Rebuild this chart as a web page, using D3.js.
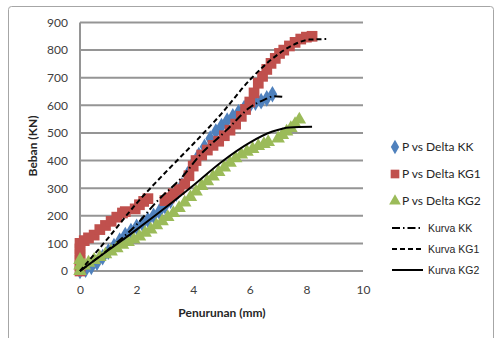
<!DOCTYPE html>
<html>
<head>
<meta charset="utf-8">
<script src="https://cdn.jsdelivr.net/npm/d3@7"></script>
<style>
  html, body { margin: 0; padding: 0; background: #fff; }
  svg { display: block; }
</style>
</head>
<body>
<svg id="chart" width="495" height="338"></svg>
<script>
// ---- data ----
const xTicks = [0, 2, 4, 6, 8, 10];
const yTicks = [0, 100, 200, 300, 400, 500, 600, 700, 800, 900];

const kkDelta = [0,0.2,0.4,0.6,0.8,1.0,1.2,1.4,1.6,1.8,2.0,2.2,2.4,2.6,2.8,3.0,3.2,3.4,3.6,3.8,4.0,4.2,4.4,4.6,4.8,5.0,5.2,5.4,5.6,5.8,6.0,6.2,6.4,6.6,6.8];
const kkLoad  = [0,5,15,30,50,70,90,110,130,145,160,172,185,200,215,235,255,280,310,350,390,420,450,480,505,525,545,560,575,590,600,610,615,625,640];

const kg1Delta = [0,0,0,0,0,0,0.15,0.3,0.5,0.7,0.9,1.1,1.3,1.5,1.6,1.95,2.1,2.25,2.4,3.0,3.15,3.3,3.5,3.7,3.85,4.0,4.1,4.3,4.5,4.7,4.9,5.1,5.3,5.5,5.7,5.85,6.0,6.15,6.3,6.45,6.6,6.75,6.9,7.05,7.2,7.4,7.6,7.8,8.0,8.2];
const kg1Load  = [0,20,40,60,80,100,110,120,130,150,165,180,195,210,215,225,240,252,262,255,265,280,295,315,345,380,400,420,438,455,470,490,510,532,560,585,612,645,680,705,730,752,770,788,800,815,828,840,847,850];

const kg2Delta = [0,0,0,0.15,0.3,0.5,0.7,0.9,1.1,1.3,1.5,1.7,1.9,2.1,2.3,2.5,2.7,2.9,3.1,3.3,3.5,3.7,3.9,4.1,4.3,4.5,4.7,4.9,5.1,5.3,5.5,5.7,5.9,6.1,6.3,6.5,6.65,7.0,7.15,7.3,7.45,7.6,7.75];
const kg2Load  = [0,20,40,20,30,40,50,60,70,82,95,105,115,125,138,150,165,180,195,210,228,248,268,288,308,325,342,358,375,392,408,422,432,442,452,460,467,480,492,505,518,532,548];

const kurvaKKDelta = [0,1,2,2.7,3.65,4.2,5.2,6,6.5,6.85,7.2];
const kurvaKKLoad  = [0,78,168,250,345,415,512,592,620,633,630];

const kurvaKG1Delta = [0,1,2,3,4,5,6,7,7.6,8.1,8.7];
const kurvaKG1Load  = [0,120,245,355,460,570,692,785,822,838,840];

const kurvaKG2Delta = [0,1,2,3,4,5,6,6.8,7.4,8.2];
const kurvaKG2Load  = [0,75,150,228,310,395,465,505,520,522];

const legendLabels = ["P vs Delta KK", "P vs Delta KG1", "P vs Delta KG2", "Kurva KK", "Kurva KG1", "Kurva KG2"];

// ---- layout ----
const svg = d3.select("#chart");
const font = "Lato, 'Open Sans', sans-serif";
const x = d3.scaleLinear().domain([0, 10]).range([80, 363]);
const y = d3.scaleLinear().domain([0, 900]).range([271, 22.5]);

// outer border
svg.append("rect").attr("x", 8.5).attr("y", 6.5).attr("width", 485).attr("height", 340)
  .attr("rx", 3).attr("fill", "none").attr("stroke", "#a6a6a6").attr("stroke-width", 1);

// gridlines
svg.append("g").selectAll("line").data(yTicks).join("line")
  .attr("x1", x(0)).attr("x2", x(10))
  .attr("y1", d => y(d)).attr("y2", d => y(d))
  .attr("stroke", "#959595").attr("stroke-width", 2);

// y axis line
svg.append("line").attr("x1", x(0)).attr("x2", x(0)).attr("y1", y(900)).attr("y2", y(0))
  .attr("stroke", "#959595").attr("stroke-width", 2);

// y axis labels
const yAxis = d3.axisLeft(y).tickValues(yTicks).tickSize(0).tickPadding(12);
const gy = svg.append("g").attr("transform", `translate(${x(0)},0)`).call(yAxis);
gy.select(".domain").remove();
gy.selectAll("text").attr("font-family", font).attr("font-size", 12).attr("fill", "#404040");

// x axis labels
const xAxis = d3.axisBottom(x).tickValues(xTicks).tickSize(0).tickPadding(14);
const gx = svg.append("g").attr("transform", `translate(0,${y(0)})`).call(xAxis);
gx.select(".domain").remove();
gx.selectAll("text").attr("font-family", font).attr("font-size", 12).attr("fill", "#404040");

// axis titles
svg.append("text").attr("x", 222).attr("y", 317).attr("text-anchor", "middle")
  .attr("font-family", font).attr("font-size", 12).attr("font-weight", "bold").attr("fill", "#262626")
  .text("Penurunan (mm)");
svg.append("text").attr("transform", "translate(37,146) rotate(-90)").attr("text-anchor", "middle")
  .attr("font-family", font).attr("font-size", 12).attr("font-weight", "bold").attr("fill", "#262626")
  .text("Beban (KN)");

// series
const blue = "#4F81BD", red = "#C0504D", green = "#9BBB59";
const zip = (a, b) => a.map((v, i) => [v, b[i]]);

const diamond = d3.symbol().type(d3.symbolDiamond).size(80);
const square = d3.symbol().type(d3.symbolSquare).size(115);
const triangle = d3.symbol().type(d3.symbolTriangle).size(80);

svg.append("g").selectAll("path").data(zip(kkDelta, kkLoad)).join("path")
  .attr("d", diamond).attr("transform", d => `translate(${x(d[0])},${y(d[1])})`).attr("fill", blue);
svg.append("g").selectAll("path").data(zip(kg1Delta, kg1Load)).join("path")
  .attr("d", square).attr("transform", d => `translate(${x(d[0])},${y(d[1])})`).attr("fill", red);
svg.append("g").selectAll("path").data(zip(kg2Delta, kg2Load)).join("path")
  .attr("d", triangle).attr("transform", d => `translate(${x(d[0])},${y(d[1])})`).attr("fill", green);

const line = d3.line().x(d => x(d[0])).y(d => y(d[1])).curve(d3.curveMonotoneX);
svg.append("path").datum(zip(kurvaKKDelta, kurvaKKLoad)).attr("d", line)
  .attr("fill", "none").attr("stroke", "#000").attr("stroke-width", 2).attr("stroke-dasharray", "8,3,1.5,3");
svg.append("path").datum(zip(kurvaKG1Delta, kurvaKG1Load)).attr("d", line)
  .attr("fill", "none").attr("stroke", "#000").attr("stroke-width", 2).attr("stroke-dasharray", "5,3");
svg.append("path").datum(zip(kurvaKG2Delta, kurvaKG2Load)).attr("d", line)
  .attr("fill", "none").attr("stroke", "#000").attr("stroke-width", 2);

// legend
const lg = svg.append("g");
const rowsY = [147, 174, 201, 228, 249, 270];
const mk = [
  {sym: d3.symbol().type(d3.symbolDiamond).size(60), c: blue},
  {sym: d3.symbol().type(d3.symbolSquare).size(75), c: red},
  {sym: d3.symbol().type(d3.symbolTriangle).size(60), c: green}
];
mk.forEach((m, i) => {
  lg.append("path").attr("d", m.sym).attr("fill", m.c)
    .attr("transform", `translate(395,${rowsY[i]})`);
  lg.append("text").attr("x", 402).attr("y", rowsY[i]).attr("dy", "0.35em")
    .attr("font-family", font).attr("font-size", 12).attr("fill", "#262626").text(legendLabels[i]);
});
const dashes = ["8,3,1.5,3", "5,3", null];
dashes.forEach((da, j) => {
  const i = j + 3;
  const l = lg.append("line").attr("x1", 392).attr("x2", 423).attr("y1", rowsY[i]).attr("y2", rowsY[i])
    .attr("stroke", "#000").attr("stroke-width", 2);
  if (da) l.attr("stroke-dasharray", da);
  lg.append("text").attr("x", 428).attr("y", rowsY[i]).attr("dy", "0.35em")
    .attr("font-family", "'Liberation Sans', Arial, sans-serif").attr("font-size", 10.5).attr("fill", "#262626").text(legendLabels[i]);
});
</script>
</body>
</html>
